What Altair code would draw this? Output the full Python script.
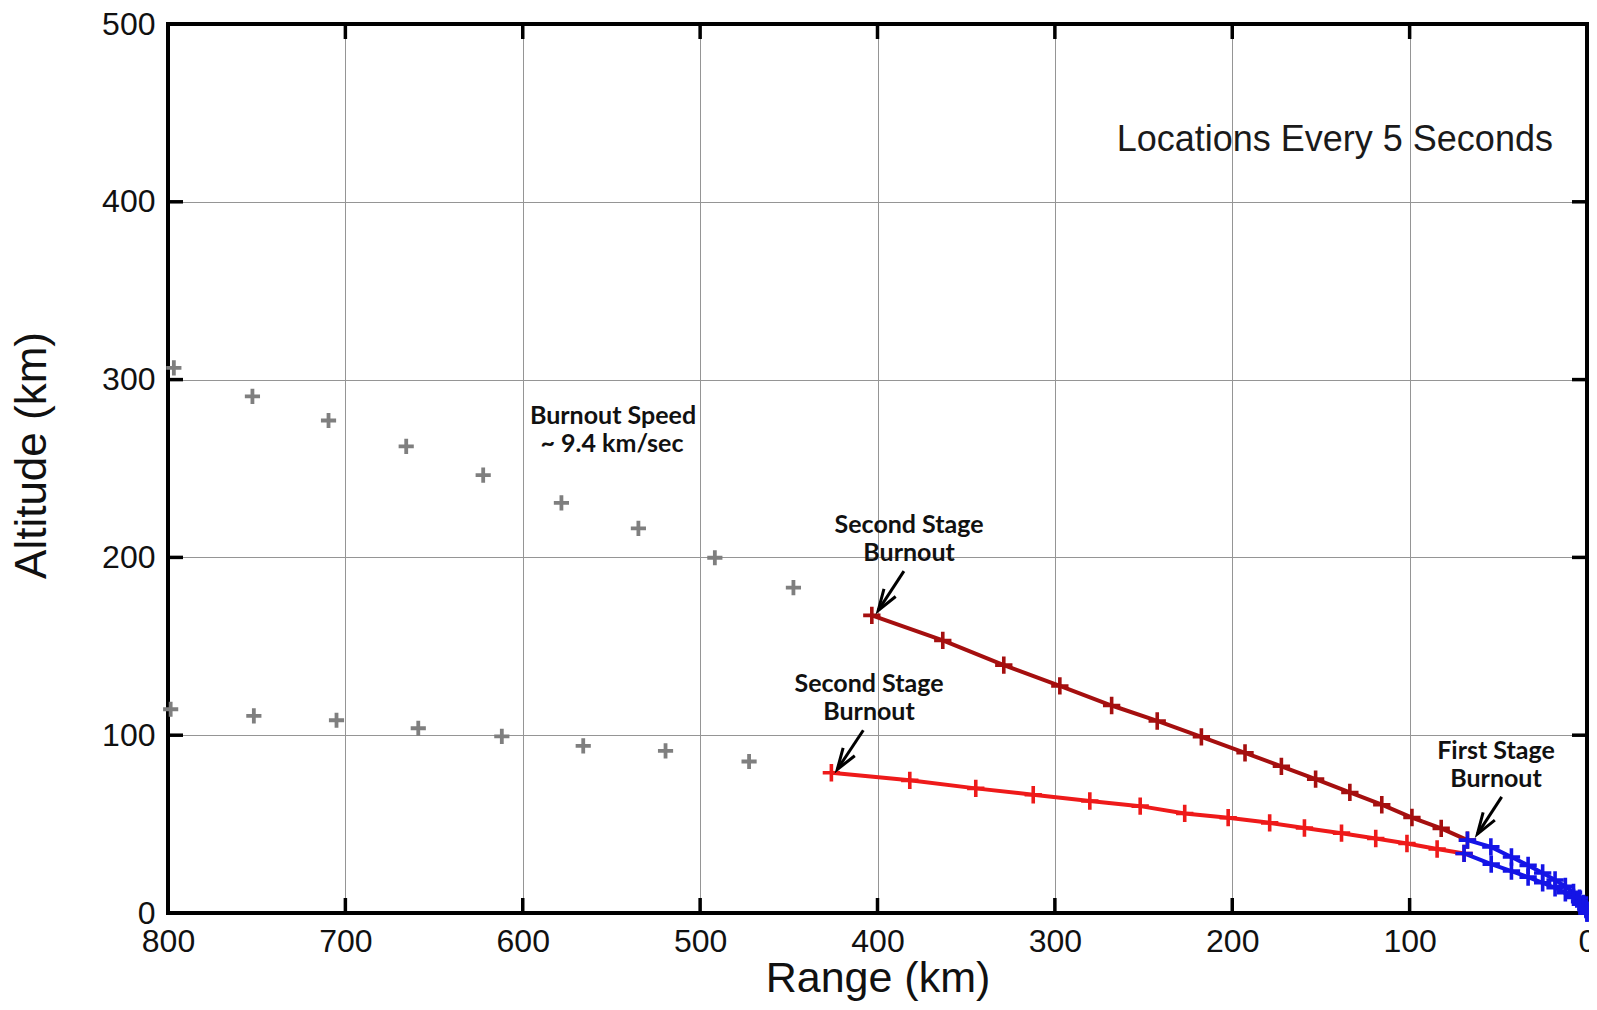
import math
import altair as alt
import pandas as pd

# ---------------- data ----------------
x_ticks = [800, 700, 600, 500, 400, 300, 200, 100, 0]
y_ticks = [0, 100, 200, 300, 400, 500]

# coasting positions after burnout (gray crosses)
upper_coast_x = [796.7, 752.4, 709.5, 665.7, 622.3, 578.2, 534.8, 491.7, 447.4]
upper_coast_y = [306.6, 290.6, 277.0, 262.4, 246.3, 230.7, 216.3, 199.8, 183.0]
lower_coast_x = [798.5, 751.6, 705.0, 658.9, 611.8, 565.9, 519.5, 472.4]
lower_coast_y = [114.6, 110.9, 108.4, 103.9, 99.3, 94.0, 91.2, 85.2]

# second stage (upper trajectory, dark red)
upper_s2_x = [403.2, 363.2, 328.8, 297.2, 268.0, 242.3, 217.4, 192.8, 172.3,
              153.0, 133.7, 115.7, 98.7, 82.2, 67.4]
upper_s2_y = [167.4, 153.3, 139.4, 127.7, 116.7, 108.0, 99.1, 90.1, 82.5,
              75.3, 67.8, 60.9, 53.7, 47.6, 41.0]
# second stage (lower trajectory, red)
lower_s2_x = [426.0, 381.8, 344.6, 312.2, 280.3, 251.9, 226.8, 202.3, 178.9,
              159.3, 138.4, 119.1, 101.5, 84.5, 69.3]
lower_s2_y = [78.9, 74.6, 70.1, 66.5, 63.0, 60.1, 56.0, 53.6, 50.7,
              47.8, 44.9, 41.9, 39.1, 36.0, 33.5]

# first stage (blue)
upper_s1_x = [67.4, 54.2, 42.6, 33.2, 25.0, 18.0, 12.2, 7.6, 4.2, 1.9, 0.6, 0.0]
upper_s1_y = [41.0, 37.2, 31.5, 26.8, 22.5, 18.6, 15.0, 11.6, 8.4, 5.4, 2.6, 0.0]
lower_s1_x = [69.3, 54.0, 42.6, 33.2, 25.0, 18.0, 12.2, 7.6, 4.2, 1.9, 0.6, 0.0]
lower_s1_y = [33.5, 27.5, 23.6, 20.2, 17.0, 14.2, 11.4, 8.8, 6.4, 4.0, 1.9, 0.0]

# annotation texts (centre positions, data units)
label_text = ["Burnout Speed", "~ 9.4 km/sec",
              "Second Stage", "Burnout",
              "Second Stage", "Burnout",
              "First Stage", "Burnout"]
label_x = [549.1, 549.7, 382.2, 382.2, 404.8, 404.8, 51.3, 51.3]
label_y = [279.5, 263.5, 218.5, 202.2, 128.7, 112.9, 91.0, 75.3]

# arrows: start -> tip
arrow_x = [385.1, 408.0, 48.1]
arrow_y = [192.3, 102.8, 65.3]
arrow_x2 = [399.6, 422.7, 61.8]
arrow_y2 = [170.2, 80.7, 44.4]

note_text = ["Locations Every 5 Seconds"]
note_x = [19.2]
note_y = [434.6]

# ---------------- layout ----------------
W, H = 1419, 889
XMAX, YMAX = 800, 500
TICK = 15
FRAME = 3.5

rows = []
def add(name, xs, ys):
    for i, (a, b) in enumerate(zip(xs, ys)):
        rows.append({"x": a, "y": b, "series": name, "i": i})

add("upper_coast", upper_coast_x, upper_coast_y)
add("lower_coast", lower_coast_x, lower_coast_y)
add("upper_s2", upper_s2_x, upper_s2_y)
add("lower_s2", lower_s2_x, lower_s2_y)
add("upper_s1", upper_s1_x, upper_s1_y)
add("lower_s1", lower_s1_x, lower_s1_y)
df = pd.DataFrame(rows)

labels = pd.DataFrame({"x": label_x, "y": label_y, "text": label_text})
notes = pd.DataFrame({"x": note_x, "y": note_y, "text": note_text})

sx, sy = W / XMAX, H / YMAX
angles = []
for a, b, a2, b2 in zip(arrow_x, arrow_y, arrow_x2, arrow_y2):
    dxp = -(a2 - a) * sx       # reversed x axis
    dyp = -(b2 - b) * sy       # screen y grows downward
    angles.append(math.degrees(math.atan2(dxp, -dyp)) % 360)
arrows = pd.DataFrame({"x": arrow_x, "y": arrow_y, "x2": arrow_x2,
                       "y2": arrow_y2, "angle": angles})

xt = pd.DataFrame({"v": x_ticks})
yt = pd.DataFrame({"v": y_ticks})

FONT = "Liberation Sans, Arial, sans-serif"
NARROW = "Lato, 'Liberation Sans', sans-serif"

xscale = alt.Scale(domain=[0, XMAX], reverse=True, nice=False, zero=False)
yscale = alt.Scale(domain=[0, YMAX], nice=False, zero=False)

xaxis = alt.Axis(values=x_ticks, format="d", grid=True, gridColor="#959595",
                 gridWidth=1, domain=False, ticks=False, labelFontSize=32,
                 labelFont=FONT, labelColor="#111111", labelPadding=13,
                 labelFlush=False, title="Range (km)", titleFont=FONT,
                 titleFontSize=43, titleFontWeight="normal", titleColor="#111111",
                 titleY=78, titleX=W / 2, titleBaseline="alphabetic",
                 titleAlign="center")
yaxis = alt.Axis(values=y_ticks, format="d", grid=True, gridColor="#959595",
                 gridWidth=1, domain=False, ticks=False, labelFontSize=32,
                 labelFont=FONT, labelColor="#111111", labelPadding=13,
                 labelFlush=False, title="Altitude (km)", titleFont=FONT,
                 titleFontSize=44, titleFontWeight="normal", titleColor="#111111",
                 titleX=-123, titleY=431, titleBaseline="alphabetic",
                 titleAlign="center", titleAngle=270)

def X(f="x"):
    return alt.X(f"{f}:Q", scale=xscale, axis=xaxis)

def Y(f="y"):
    return alt.Y(f"{f}:Q", scale=yscale, axis=yaxis)

PLUS = "M-1,0L1,0M0,-1L0,1"
ARROWHEAD = "M-0.33,1L0,0L0.33,1"

series_dom = ["upper_s2", "lower_s2", "upper_s1", "lower_s1"]
series_col = ["#a50f0f", "#ee1a1a", "#1414e6", "#1414e6"]
color = alt.Color("series:N", scale=alt.Scale(domain=series_dom, range=series_col),
                  legend=None)

frame = alt.Chart(xt).mark_rect(fill=None, stroke="black", strokeWidth=FRAME).encode(
    x=alt.value(0), x2=alt.value(W), y=alt.value(0), y2=alt.value(H))

tick_b = alt.Chart(xt).mark_rule(color="black", strokeWidth=FRAME).encode(
    x=X("v"), y=alt.value(H), y2=alt.value(H - TICK))
tick_t = alt.Chart(xt).mark_rule(color="black", strokeWidth=FRAME).encode(
    x=X("v"), y=alt.value(0), y2=alt.value(TICK))
tick_l = alt.Chart(yt).mark_rule(color="black", strokeWidth=FRAME).encode(
    y=Y("v"), x=alt.value(0), x2=alt.value(TICK))
tick_r = alt.Chart(yt).mark_rule(color="black", strokeWidth=FRAME).encode(
    y=Y("v"), x=alt.value(W - TICK), x2=alt.value(W))

coast = alt.Chart(df).transform_filter(
    alt.FieldOneOfPredicate(field="series", oneOf=["upper_coast", "lower_coast"])
).mark_point(shape=PLUS, filled=False, color="#7f7f7f", strokeWidth=3.8,
             size=230, opacity=1).encode(x=X(), y=Y())

powered = alt.Chart(df).transform_filter(
    alt.FieldOneOfPredicate(field="series", oneOf=series_dom))

lines_red = powered.transform_filter(
    alt.FieldOneOfPredicate(field="series", oneOf=["upper_s2", "lower_s2"])
).mark_line(strokeWidth=4).encode(x=X(), y=Y(), color=color, detail="series:N",
                                   order="i:Q")
pts_red = powered.transform_filter(
    alt.FieldOneOfPredicate(field="series", oneOf=["upper_s2", "lower_s2"])
).mark_point(shape=PLUS, filled=False, strokeWidth=3.6, size=300, opacity=1).encode(
    x=X(), y=Y(), color=color)

lines_blue = powered.transform_filter(
    alt.FieldOneOfPredicate(field="series", oneOf=["upper_s1", "lower_s1"])
).mark_line(strokeWidth=4).encode(x=X(), y=Y(), color=color, detail="series:N",
                                   order="i:Q")
pts_blue = powered.transform_filter(
    alt.FieldOneOfPredicate(field="series", oneOf=["upper_s1", "lower_s1"])
).mark_point(shape=PLUS, filled=False, strokeWidth=3.6, size=300, opacity=1).encode(
    x=X(), y=Y(), color=color)

shafts = alt.Chart(arrows).mark_rule(color="black", strokeWidth=3).encode(
    x=X(), y=Y(), x2="x2:Q", y2="y2:Q")
heads = alt.Chart(arrows).mark_point(shape=ARROWHEAD, filled=False, color="black",
                                     strokeWidth=3, size=1800, opacity=1).encode(
    x=X("x2"), y=Y("y2"), angle=alt.Angle("angle:Q", scale=None))

label_layer = alt.Chart(labels).mark_text(font=NARROW, fontWeight="bold", fontSize=25,
                                          color="#111111", align="center",
                                          baseline="middle").encode(
    x=X(), y=Y(), text="text:N")

note_layer = alt.Chart(notes).mark_text(font=FONT, fontSize=36, color="#1a1a1a",
                                        align="right", baseline="middle").encode(
    x=X(), y=Y(), text="text:N")

chart = alt.layer(
    frame, tick_b, tick_t, tick_l, tick_r,
    coast, lines_red, lines_blue, pts_red, pts_blue,
    shafts, heads, label_layer, note_layer
).properties(
    width=W, height=H,
    autosize=alt.AutoSizeParams(type="none"),
    padding={"left": 160, "top": 16, "right": 2, "bottom": 88},
).configure_view(stroke=None).configure(background="white")

chart.save("out.html", embed_options={"renderer": "svg", "actions": False})
